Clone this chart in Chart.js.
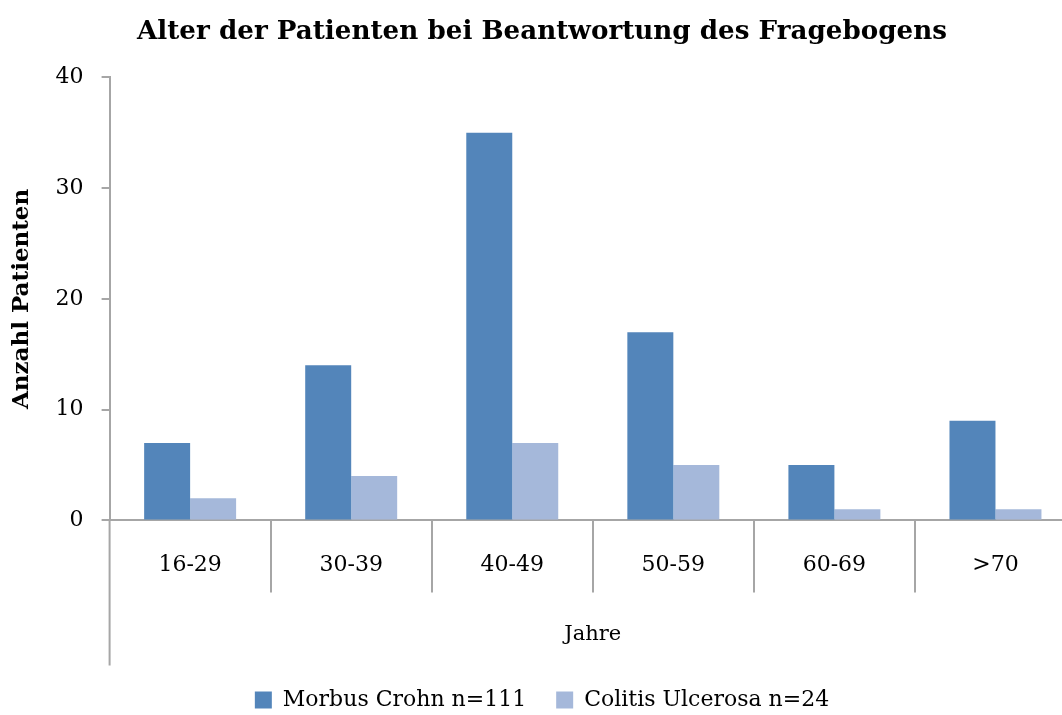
<!DOCTYPE html>
<html>
<head>
<meta charset="utf-8">
<script src="https://cdn.jsdelivr.net/npm/chart.js@4"></script>
<style>
    html, body { margin: 0; padding: 0; background: #fff; overflow: hidden; }
    #wrap { width: 1076px; height: 721px; }
</style>
</head>
<body>
<div id="wrap"><canvas id="chart"></canvas></div>
<script>
// Altersgruppen und Patientenzahlen
const ageGroups = ['16-29', '30-39', '40-49', '50-59', '60-69', '>70'];
const crohnCounts = [7, 14, 35, 17, 5, 9];
const colitisCounts = [2, 4, 7, 5, 1, 1];
const yTicks = [0, 10, 20, 30, 40];

const axisColor = '#a6a6a6';
const serif = "'DejaVu Serif', serif";

// Category separators below the x axis and the long y axis line
const axisExtension = {
    id: 'axisExtension',
    afterDraw(chart) {
        const ctx = chart.ctx;
        const area = chart.chartArea;
        const x = chart.scales.x;
        ctx.save();
        ctx.strokeStyle = axisColor;
        ctx.lineWidth = 2;
        ctx.beginPath();
        for (let i = 1; i < ageGroups.length; i++) {
            const sx = Math.round((x.getPixelForValue(i - 1) + x.getPixelForValue(i)) / 2);
            ctx.moveTo(sx, area.bottom);
            ctx.lineTo(sx, area.bottom + 72);
        }
        ctx.moveTo(area.left, area.bottom);
        ctx.lineTo(area.left, area.bottom + 145);
        ctx.stroke();
        ctx.restore();
    }
};

new Chart(document.getElementById('chart').getContext('2d'), {
    type: 'bar',
    data: {
        labels: ageGroups,
        datasets: [
            {
                label: 'Morbus Crohn n=111',
                data: crohnCounts,
                backgroundColor: '#5385ba',
                categoryPercentage: 0.571,
                barPercentage: 1.0
            },
            {
                label: 'Colitis Ulcerosa n=24',
                data: colitisCounts,
                backgroundColor: '#a5b8da',
                categoryPercentage: 0.571,
                barPercentage: 1.0
            }
        ]
    },
    options: {
        responsive: true,
        maintainAspectRatio: false,
        animation: false,
        layout: { padding: { left: 8, right: 0, top: 0, bottom: 0 } },
        scales: {
            x: {
                grid: {
                    drawOnChartArea: false,
                    drawTicks: false
                },
                border: { color: axisColor, width: 2 },
                ticks: {
                    color: '#000',
                    font: { family: serif, size: 22 },
                    padding: 32,
                    maxRotation: 0
                },
                title: {
                    display: true,
                    text: 'Jahre',
                    color: '#000',
                    font: { family: serif, size: 21 },
                    padding: { top: 11, bottom: 12 }
                }
            },
            y: {
                min: 0,
                max: 40,
                afterBuildTicks: axis => { axis.ticks = yTicks.map(v => ({ value: v })); },
                grid: {
                    drawOnChartArea: false,
                    drawTicks: true,
                    tickLength: 8,
                    color: axisColor,
                    lineWidth: 2
                },
                border: { color: axisColor, width: 2 },
                ticks: {
                    color: '#000',
                    font: { family: serif, size: 22 },
                    padding: 18
                },
                title: {
                    display: true,
                    text: 'Anzahl Patienten',
                    color: '#000',
                    font: { family: serif, size: 23, weight: 'bold' },
                    padding: { top: 0, bottom: 2 }
                }
            }
        },
        plugins: {
            title: {
                display: true,
                text: 'Alter der Patienten bei Beantwortung des Fragebogens',
                color: '#000',
                font: { family: serif, size: 26.2, weight: 'bold' },
                padding: { top: 16, bottom: 30 }
            },
            legend: {
                position: 'bottom',
                labels: {
                    color: '#000',
                    font: { family: serif, size: 22 },
                    boxWidth: 17,
                    boxHeight: 17,
                    padding: 30
                }
            },
            tooltip: { enabled: false }
        }
    },
    plugins: [axisExtension]
});
</script>
</body>
</html>
